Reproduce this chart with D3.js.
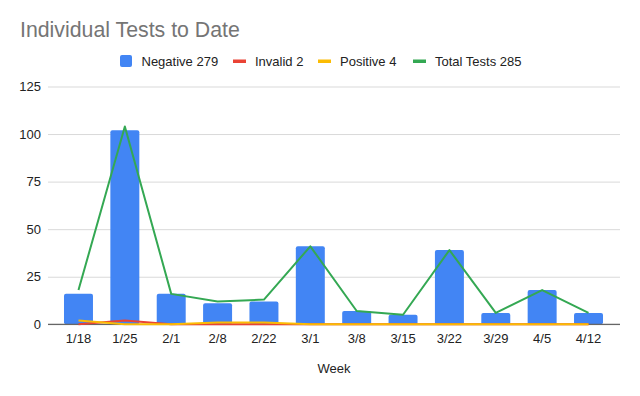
<!DOCTYPE html>
<html><head><meta charset="utf-8">
<script src="https://cdn.jsdelivr.net/npm/d3@7"></script>
<style>body{margin:0;background:#fff;font-family:Arial,"Liberation Sans",sans-serif;}</style>
</head><body><svg id="c" width="640" height="396"></svg>
<script>
const weeks = ["1/18","1/25","2/1","2/8","2/22","3/1","3/8","3/15","3/22","3/29","4/5","4/12"];
const negative = [16,102,16,11,12,41,7,5,39,6,18,6];
const invalid = [0,2,0,0,0,0,0,0,0,0,0,0];
const positive = [2,0,0,1,1,0,0,0,0,0,0,0];
const total = [18,104,16,12,13,41,7,5,39,6,18,6];
const yTicks = [0,25,50,75,100,125];
const legendLabels = ["Negative 279","Invalid 2","Positive 4","Total Tests 285"];
const colors = ["#4285f4","#ea4335","#fbbc04","#34a853"];

const svg = d3.select("#c");
const x = d3.scaleBand().domain(weeks).range([55.3, 611.7]).paddingInner(0.375).paddingOuter(0.1875);
const y = d3.scaleLinear().domain([0,125]).range([324.3, 86.5]);
const gridL = 48, gridR = 620;

svg.append("text").attr("x",20).attr("y",37).attr("font-size",21.3).attr("fill","#757575")
  .text("Individual Tests to Date");

// grid
const yAxis = d3.axisLeft(y).tickValues(yTicks).tickSize(-(gridR-gridL)).tickPadding(7);
const gy = svg.append("g").attr("transform",`translate(${gridL},0)`).call(yAxis);
gy.select(".domain").remove();
gy.selectAll(".tick line").attr("stroke","#d9d9d9").attr("stroke-width",1);
gy.selectAll(".tick text").attr("font-size",13).attr("fill","#222").attr("font-family","Arial, 'Liberation Sans', sans-serif");

// bars
svg.append("g").selectAll("rect").data(weeks).join("rect")
  .attr("x",d=>x(d)).attr("width",x.bandwidth())
  .attr("y",(d,i)=>y(negative[i])).attr("height",(d,i)=>y(0)-y(negative[i]))
  .attr("rx",2).attr("fill",colors[0]);

// baseline axis
const xAxis = d3.axisBottom(x).tickSize(0).tickPadding(9);
const gx = svg.append("g").attr("transform",`translate(0,${y(0)})`).call(xAxis);
gx.select(".domain").remove();
svg.append("line").attr("x1",gridL).attr("x2",gridR).attr("y1",y(0)).attr("y2",y(0)).attr("stroke","#666").attr("stroke-width",1.3);
gx.selectAll(".tick text").attr("font-size",13).attr("fill","#222").attr("font-family","Arial, 'Liberation Sans', sans-serif");

const line = d3.line().x((d,i)=>x(weeks[i])+x.bandwidth()/2).y(d=>y(d));
[[invalid,1],[positive,2],[total,3]].forEach(([s,c])=>{
  svg.append("path").datum(s).attr("d",line).attr("fill","none")
    .attr("stroke",colors[c]).attr("stroke-width",2).attr("stroke-linejoin","round");
});

svg.append("text").attr("x",334).attr("y",373).attr("text-anchor","middle").attr("font-size",13).attr("fill","#222").text("Week");

// legend
const lx = [120, 233, 318, 413];
const lg = svg.append("g");
legendLabels.forEach((t,i)=>{
  if(i===0) lg.append("rect").attr("x",lx[i]).attr("y",55).attr("width",12).attr("height",12).attr("rx",2).attr("fill",colors[i]);
  else lg.append("rect").attr("x",lx[i]).attr("y",59.5).attr("width",13).attr("height",3.5).attr("fill",colors[i]);
  lg.append("text").attr("x",lx[i]+(i===0?21.5:22)).attr("y",65.5).attr("font-size",13).attr("fill","#222").text(t);
});
</script></body></html>
